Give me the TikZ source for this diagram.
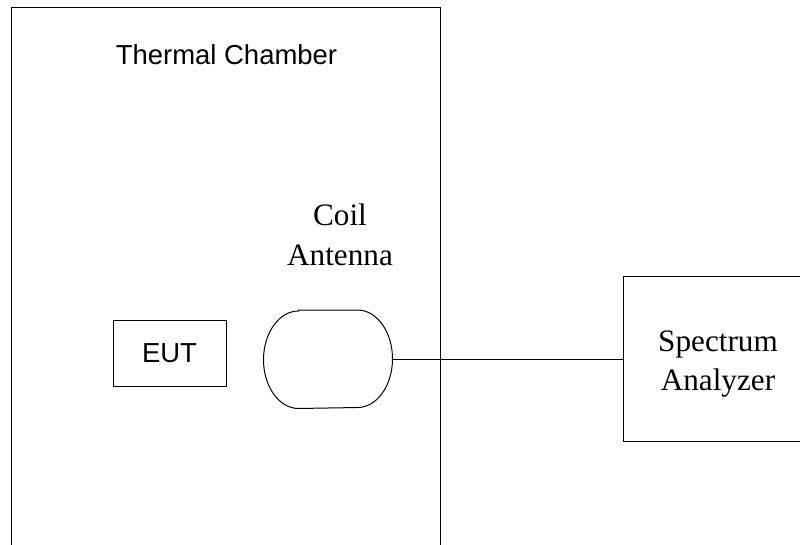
\documentclass[tikz,border=0pt]{standalone}
\usepackage{fontspec}
\setmainfont{Liberation Serif}
\newfontfamily\arialfont{Liberation Sans}
\usepackage{tikz}
\usetikzlibrary{positioning}

\begin{document}
\begin{tikzpicture}[x=0.75pt, y=-0.75pt, line width=0.75pt]
\tikzstyle{box} = [draw=black, inner sep=0pt]
\tikzstyle{sans} = [font=\arialfont\fontsize{20.6}{24}\selectfont]
\tikzstyle{serif} = [font=\fontsize{23.4}{29.5}\selectfont, align=center]

\useasboundingbox (0,0) rectangle (800,544);
\clip (0,0) rectangle (800,544);

\node[box, minimum width=322.1pt, minimum height=429.4pt] (chamber) at (226.25,293.75) {};
\node[sans, anchor=base] (title) at (226.5,64.3) {Thermal Chamber};
\node[box, sans, minimum width=84.75pt, minimum height=49.5pt] (eut) at (169.5,353) {EUT};

% coil antenna outline
\node[minimum width=96pt, minimum height=73.1pt, inner sep=0pt] (coil) at (328,359.25) {};
\draw ([xshift=26.25pt]coil.north west) -- ([xshift=-26.25pt]coil.north east)
  arc[start angle=90, end angle=-90, x radius=26.25pt, y radius=36.56pt]
  -- ([xshift=26.25pt]coil.south west)
  arc[start angle=270, end angle=90, x radius=26.25pt, y radius=36.56pt] -- cycle;
\node[serif, anchor=base] (coillabel) at (340,265) {Coil\\Antenna};

\node[box, minimum width=142.5pt, minimum height=124.1pt] (analyzer) at (718,358.75) {};
\node[serif, anchor=base] (analyzerlabel) at (718,390.7) {Spectrum\\Analyzer};

\draw (coil.east) -- (analyzer.west |- coil.east);

\end{tikzpicture}
\end{document}
